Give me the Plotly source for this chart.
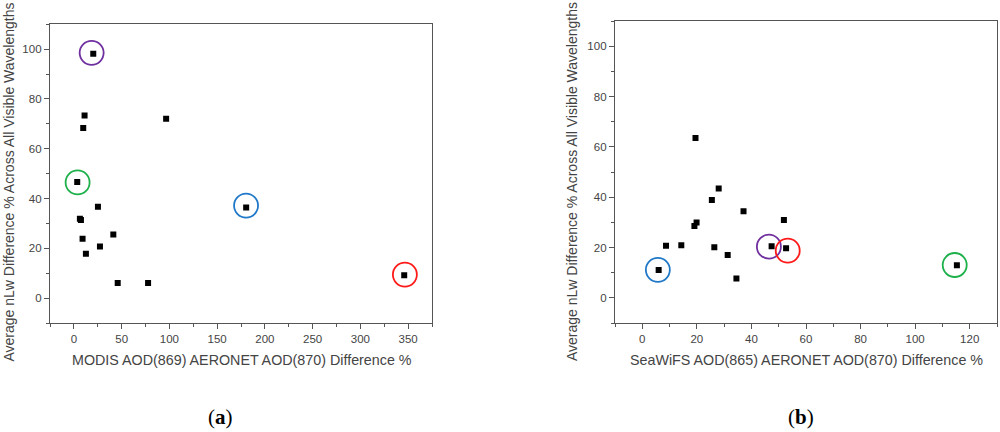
import plotly.graph_objects as go

# Panel (a): MODIS
modis_x = [20.3, 11.2, 9.8, 96.6, 3.5, 25.2, 6.3, 7.4, 9.1, 41.3, 27.3, 12.6, 45.9, 77.7, 180.4, 345.9]
modis_y = [98.1, 73.3, 68.3, 72.0, 46.7, 36.7, 31.9, 31.4, 23.9, 25.6, 20.8, 17.9, 6.1, 6.1, 36.4, 9.2]
modis_circle_x = [18.6, 3.9, 180.3, 346.6]
modis_circle_y = [98.5, 46.5, 37.2, 9.5]
modis_circle_colors = ["#7030A0", "#1DB04B", "#1F78C8", "#FF1A1A"]

# Panel (b): SeaWiFS
seawifs_x = [6.0, 8.7, 14.3, 19.5, 19.1, 19.9, 25.5, 28.0, 26.4, 31.3, 34.5, 37.1, 51.9, 47.4, 52.7, 115.3]
seawifs_y = [11.1, 20.8, 21.0, 63.6, 28.6, 30.0, 38.9, 43.5, 20.2, 17.1, 7.7, 34.5, 31.0, 20.6, 19.8, 13.0]
seawifs_circle_x = [5.7, 46.4, 53.3, 114.5]
seawifs_circle_y = [11.2, 20.4, 18.8, 13.1]
seawifs_circle_colors = ["#1F78C8", "#7030A0", "#FF1A1A", "#1DB04B"]

y_title = "Average nLw Difference % Across All Visible Wavelengths"
x_title_a = "MODIS AOD(869) AERONET AOD(870) Difference %"
x_title_b = "SeaWiFS AOD(865) AERONET AOD(870) Difference %"

fig = go.Figure()

fig.add_trace(go.Scatter(x=modis_x, y=modis_y, mode="markers", xaxis="x", yaxis="y",
                         marker=dict(symbol="square", size=6, color="black"), showlegend=False))
fig.add_trace(go.Scatter(x=modis_circle_x, y=modis_circle_y, mode="markers", xaxis="x", yaxis="y",
                         marker=dict(symbol="circle-open", size=24, color=modis_circle_colors,
                                     line=dict(width=1.8, color=modis_circle_colors)), showlegend=False))
fig.add_trace(go.Scatter(x=seawifs_x, y=seawifs_y, mode="markers", xaxis="x2", yaxis="y2",
                         marker=dict(symbol="square", size=6, color="black"), showlegend=False))
fig.add_trace(go.Scatter(x=seawifs_circle_x, y=seawifs_circle_y, mode="markers", xaxis="x2", yaxis="y2",
                         marker=dict(symbol="circle-open", size=24, color=seawifs_circle_colors,
                                     line=dict(width=1.8, color=seawifs_circle_colors)), showlegend=False))

axis_common = dict(showline=True, linecolor="#555555", linewidth=1.3, mirror=True,
                   ticks="outside", ticklen=5, tickwidth=1.2, tickcolor="#555555",
                   showgrid=False, zeroline=False,
                   tickfont=dict(family="Liberation Sans, Arial", size=11.5, color="#444444"))

fig.update_layout(
    width=1000, height=432,
    margin=dict(l=0, r=0, t=0, b=0),
    paper_bgcolor="white", plot_bgcolor="white",
    xaxis=dict(domain=[0.050, 0.432], range=[-25, 375], dtick=50, tick0=0,
               minor=dict(ticks="outside", ticklen=3, dtick=25, tick0=0, tickcolor="#555555"),
               anchor="y", **axis_common),
    yaxis=dict(domain=[0.252, 0.944], range=[-10, 110], dtick=20, tick0=0,
               minor=dict(ticks="outside", ticklen=3, dtick=10, tick0=0, tickcolor="#555555"),
               anchor="x", **axis_common),
    xaxis2=dict(domain=[0.615, 0.997], range=[-10, 130], dtick=20, tick0=0,
                minor=dict(ticks="outside", ticklen=3, dtick=10, tick0=0, tickcolor="#555555"),
                anchor="y2", **axis_common),
    yaxis2=dict(domain=[0.252, 0.951], range=[-10, 110], dtick=20, tick0=0,
                minor=dict(ticks="outside", ticklen=3, dtick=10, tick0=0, tickcolor="#555555"),
                anchor="x2", **axis_common),
)

ytitle_font = dict(family="Liberation Sans, Arial", size=14, color="#444444")
xtitle_font = dict(family="Liberation Sans, Arial", size=14.3, color="#444444")
ann = []
ann.append(dict(text=y_title, x=8 / 1000, y=1 - 182.5 / 432, xref="paper", yref="paper",
                textangle=-90, showarrow=False, font=ytitle_font, xanchor="center", yanchor="middle"))
ann.append(dict(text=y_title, x=572 / 1000, y=1 - 182 / 432, xref="paper", yref="paper",
                textangle=-90, showarrow=False, font=ytitle_font, xanchor="center", yanchor="middle"))
ann.append(dict(text=x_title_a, x=241.5 / 1000, y=1 - 360 / 432, xref="paper", yref="paper",
                showarrow=False, font=xtitle_font, xanchor="center", yanchor="middle"))
ann.append(dict(text=x_title_b, x=806 / 1000, y=1 - 360 / 432, xref="paper", yref="paper",
                showarrow=False, font=xtitle_font, xanchor="center", yanchor="middle"))
label_font = dict(family="Liberation Serif, Times New Roman", size=21, color="black")
ann.append(dict(text="(<b>a</b>)", x=220 / 1000, y=1 - 417 / 432, xref="paper", yref="paper",
                showarrow=False, font=label_font, xanchor="center", yanchor="middle"))
ann.append(dict(text="(<b>b</b>)", x=801 / 1000, y=1 - 417 / 432, xref="paper", yref="paper",
                showarrow=False, font=label_font, xanchor="center", yanchor="middle"))
fig.update_layout(annotations=ann)

fig.write_html("out.html", config={"displayModeBar": False},
               post_script="document.body.style.margin='0';document.body.style.overflow='hidden';")
